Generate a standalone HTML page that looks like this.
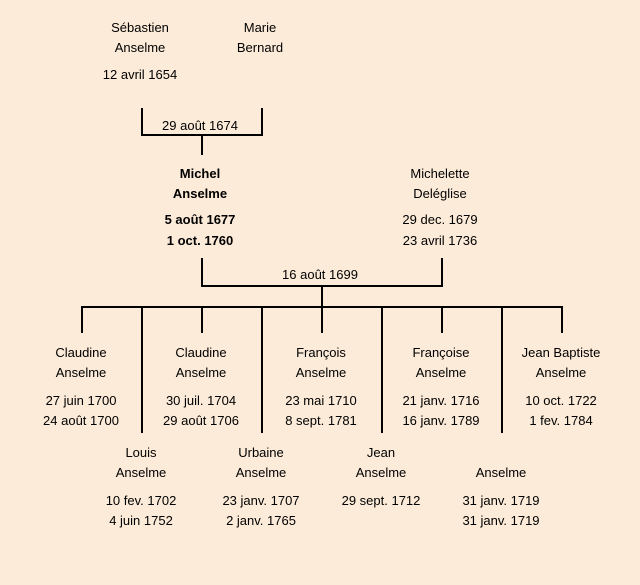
<!DOCTYPE html>
<html>
<head>
<meta charset="utf-8">
<style>
html,body{margin:0;padding:0;}
body{width:640px;height:585px;background:#fcebd8;position:relative;overflow:hidden;
font-family:"Liberation Sans","DejaVu Sans",sans-serif;font-size:13px;color:#000;}
.t{position:absolute;width:200px;text-align:center;line-height:20px;height:20px;white-space:nowrap;}
.b{font-weight:bold;}
svg{position:absolute;left:0;top:0;}
</style>
</head>
<body>
<svg width="640" height="585" viewBox="0 0 640 585">
<g stroke="#000" stroke-width="2" fill="none">
<polyline points="142,108 142,135 262,135 262,108"/>
<line x1="202" y1="135" x2="202" y2="155"/>
<polyline points="202,258 202,286 442,286 442,258"/>
<line x1="322" y1="286" x2="322" y2="307"/>
<line x1="81" y1="307" x2="563" y2="307"/>
<line x1="82" y1="307" x2="82" y2="333"/>
<line x1="202" y1="307" x2="202" y2="333"/>
<line x1="322" y1="307" x2="322" y2="333"/>
<line x1="442" y1="307" x2="442" y2="333"/>
<line x1="562" y1="307" x2="562" y2="333"/>
<line x1="142" y1="307" x2="142" y2="433"/>
<line x1="262" y1="307" x2="262" y2="433"/>
<line x1="382" y1="307" x2="382" y2="433"/>
<line x1="502" y1="307" x2="502" y2="433"/>
</g>
</svg>

<div class="t" style="left:40px;top:18px;">Sébastien</div>
<div class="t" style="left:40px;top:38px;">Anselme</div>
<div class="t" style="left:40px;top:65px;">12 avril 1654</div>
<div class="t" style="left:160px;top:18px;">Marie</div>
<div class="t" style="left:160px;top:38px;">Bernard</div>
<div class="t" style="left:100px;top:116px;">29 août 1674</div>

<div class="t b" style="left:100px;top:164px;">Michel</div>
<div class="t b" style="left:100px;top:184px;">Anselme</div>
<div class="t b" style="left:100px;top:210px;">5 août 1677</div>
<div class="t b" style="left:100px;top:231px;">1 oct. 1760</div>
<div class="t" style="left:340px;top:164px;">Michelette</div>
<div class="t" style="left:340px;top:184px;">Deléglise</div>
<div class="t" style="left:340px;top:210px;">29 dec. 1679</div>
<div class="t" style="left:340px;top:231px;">23 avril 1736</div>
<div class="t" style="left:220px;top:265px;">16 août 1699</div>

<div class="t" style="left:-19px;top:343px;">Claudine</div>
<div class="t" style="left:-19px;top:363px;">Anselme</div>
<div class="t" style="left:-19px;top:391px;">27 juin 1700</div>
<div class="t" style="left:-19px;top:411px;">24 août 1700</div>

<div class="t" style="left:101px;top:343px;">Claudine</div>
<div class="t" style="left:101px;top:363px;">Anselme</div>
<div class="t" style="left:101px;top:391px;">30 juil. 1704</div>
<div class="t" style="left:101px;top:411px;">29 août 1706</div>

<div class="t" style="left:221px;top:343px;">François</div>
<div class="t" style="left:221px;top:363px;">Anselme</div>
<div class="t" style="left:221px;top:391px;">23 mai 1710</div>
<div class="t" style="left:221px;top:411px;">8 sept. 1781</div>

<div class="t" style="left:341px;top:343px;">Françoise</div>
<div class="t" style="left:341px;top:363px;">Anselme</div>
<div class="t" style="left:341px;top:391px;">21 janv. 1716</div>
<div class="t" style="left:341px;top:411px;">16 janv. 1789</div>

<div class="t" style="left:461px;top:343px;">Jean Baptiste</div>
<div class="t" style="left:461px;top:363px;">Anselme</div>
<div class="t" style="left:461px;top:391px;">10 oct. 1722</div>
<div class="t" style="left:461px;top:411px;">1 fev. 1784</div>

<div class="t" style="left:41px;top:443px;">Louis</div>
<div class="t" style="left:41px;top:463px;">Anselme</div>
<div class="t" style="left:41px;top:491px;">10 fev. 1702</div>
<div class="t" style="left:41px;top:511px;">4 juin 1752</div>

<div class="t" style="left:161px;top:443px;">Urbaine</div>
<div class="t" style="left:161px;top:463px;">Anselme</div>
<div class="t" style="left:161px;top:491px;">23 janv. 1707</div>
<div class="t" style="left:161px;top:511px;">2 janv. 1765</div>

<div class="t" style="left:281px;top:443px;">Jean</div>
<div class="t" style="left:281px;top:463px;">Anselme</div>
<div class="t" style="left:281px;top:491px;">29 sept. 1712</div>

<div class="t" style="left:401px;top:463px;">Anselme</div>
<div class="t" style="left:401px;top:491px;">31 janv. 1719</div>
<div class="t" style="left:401px;top:511px;">31 janv. 1719</div>
</body>
</html>
